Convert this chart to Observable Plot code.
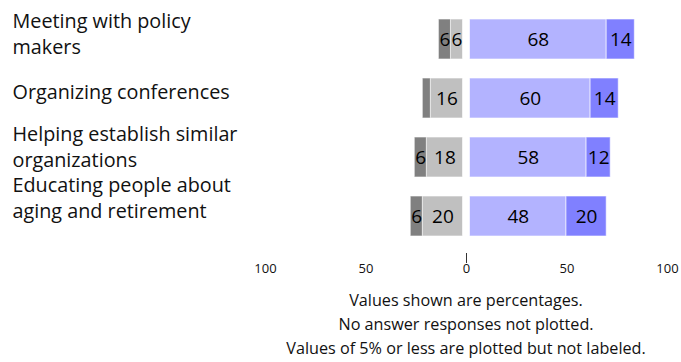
<!DOCTYPE html>
<html><head><meta charset="utf-8">
<script src="https://cdn.jsdelivr.net/npm/d3@7"></script>
<script src="https://cdn.jsdelivr.net/npm/@observablehq/plot@0.6"></script>
<style>
body{margin:0;background:#fff;font-family:"Open Sans","DejaVu Sans",sans-serif;}
#wrap{position:relative;width:681px;height:362px;}
#cap{position:absolute;left:216px;width:500px;top:288px;text-align:center;font-size:16.2px;line-height:24.2px;color:#111;}
</style></head>
<body><div id="wrap"><div id="chart"></div>
<div id="cap">Values shown are percentages.<br>No answer responses not plotted.<br>Values of 5% or less are plotted but not labeled.</div></div>
<script>
const categories = ["Meeting with policy\nmakers","Organizing conferences","Helping establish similar\norganizations","Educating people about\naging and retirement"];
const darkGray = [6,4,6,6];
const lightGray = [6,16,18,20];
const lightPurple = [68,60,58,48];
const darkPurple = [14,14,12,20];
const seriesNames = ["lightGray","darkGray","lightPurple","darkPurple"];
const axisTicks = [-100,-50,0,50,100];

const colors = {lightGray:"#c0c0c0", darkGray:"#808080", lightPurple:"#b3b3ff", darkPurple:"#8080ff"};
const labelShift = [-7,-8,-12,-20];

const rows = [];
categories.forEach((c,i)=>{
  rows.push({cat:c, s:"lightGray", v:-lightGray[i], n:lightGray[i]});
  rows.push({cat:c, s:"darkGray", v:-darkGray[i], n:darkGray[i]});
  rows.push({cat:c, s:"lightPurple", v:lightPurple[i], n:lightPurple[i]});
  rows.push({cat:c, s:"darkPurple", v:darkPurple[i], n:darkPurple[i]});
});
const left = rows.filter(d=>d.v<0), right = rows.filter(d=>d.v>0);
const stackOpts = {x:"v", y:"cat", z:"s", order: seriesNames};
const barStyle = {fill: d=>colors[d.s], stroke:"white", strokeOpacity:0.6, strokeWidth:1};
const txt = {text: d=> d.n>5 ? String(d.n) : "", fill:"black", fontSize:19};

const plot = Plot.plot({
  width:681, height:290,
  marginLeft:265, marginRight:14, marginTop:9, marginBottom:37,
  style:{fontFamily:"'Open Sans', 'DejaVu Sans', sans-serif", background:"white"},
  x:{domain:[-100,100], axis:null, label:null},
  y:{domain:categories, range:[9,247], paddingInner:0.32, paddingOuter:0.16, axis:null, label:null},
  marks:[
    Plot.barX(left, Plot.stackX({...stackOpts, ...barStyle, dx:-3.5})),
    Plot.barX(right, Plot.stackX({...stackOpts, ...barStyle, dx:3.5})),
    Plot.textX(left, Plot.stackX({...stackOpts, ...txt, dx:-3.5})),
    Plot.textX(right, Plot.stackX({...stackOpts, ...txt, dx:3.5})),
    ...categories.map((c,i)=>Plot.text([c], {y:d=>d, text:d=>d, frameAnchor:"left", textAnchor:"start", dx:-253, dy:labelShift[i], fontSize:19.8, lineHeight:1.32, fill:"#111"})),
    Plot.axisX({ticks:axisTicks, tickSize:0, tickPadding:10, tickFormat:d=>String(Math.abs(d)), fontSize:13, fill:"#111", label:null}),
    Plot.axisX({ticks:[0], tickSize:10, tickFormat:()=>"", stroke:"#333", label:null})
  ]
});
document.getElementById("chart").appendChild(plot);
</script></body></html>
